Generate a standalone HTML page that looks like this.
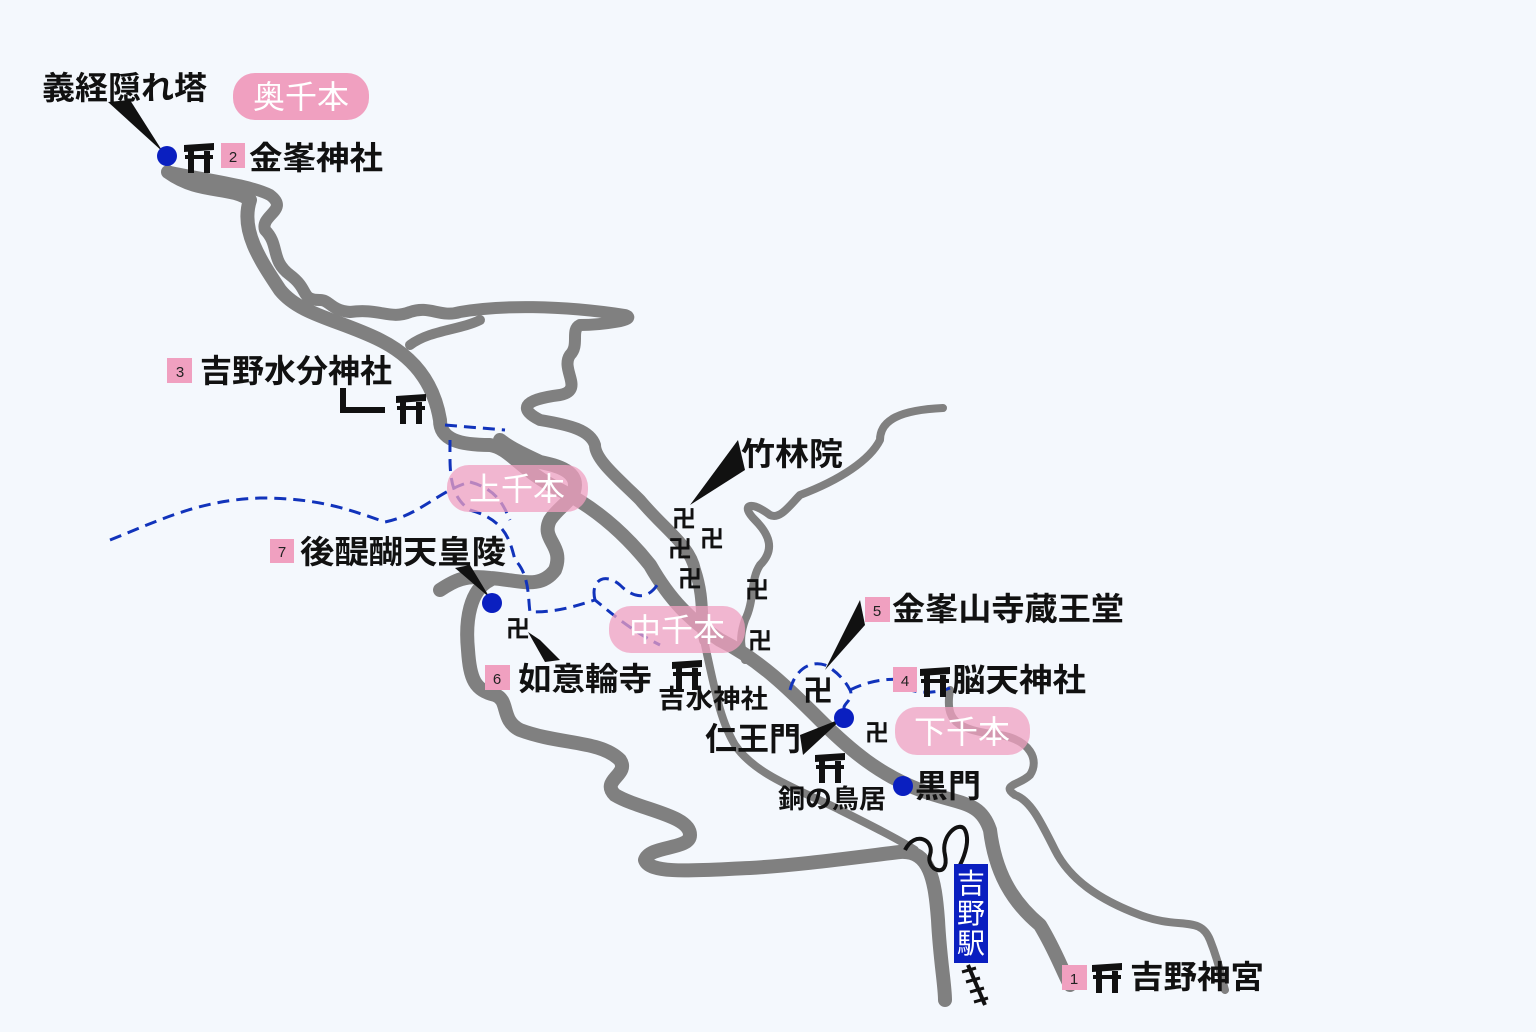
<!DOCTYPE html>
<html><head><meta charset="utf-8"><style>
html,body{margin:0;padding:0;background:#f4f8fd;}
svg{display:block}
text{font-family:"Liberation Sans","Noto Sans CJK JP",sans-serif;}
.lb{font-size:32px;font-weight:bold;fill:#111}
.sm{font-size:26px;font-weight:bold;fill:#111}
.mj{font-size:24px;font-weight:bold;fill:#111}
.pw{font-size:32px;fill:#fff}
.nm{font-size:15px;fill:#222}
</style></head><body>
<svg width="1536" height="1032" viewBox="0 0 1536 1032" xmlns="http://www.w3.org/2000/svg">
<defs>
<g id="torii"><path d="M0 2 L30 0 L30 7 L0 9 Z" fill="#111"/><rect x="1" y="12" width="28" height="4" fill="#111"/><rect x="4" y="8" width="6" height="22" fill="#111"/><rect x="20" y="8" width="6" height="22" fill="#111"/></g>
</defs>
<rect width="1536" height="1032" fill="#f4f8fd"/>
<g fill="none" stroke="#808080" stroke-linecap="round" stroke-linejoin="round">
<path stroke-width="14" d="M168 172 C200 195 230 185 250 200 C240 230 260 260 280 290 C300 315 340 320 380 340 C420 360 435 390 440 420 C440 440 460 445 490 445 C510 448 520 470 560 490 C600 510 630 540 650 565 C670 600 690 620 720 640 C760 660 790 690 820 720 C850 750 880 775 920 790 C960 805 980 800 990 830 C995 870 1010 900 1040 925 C1055 950 1060 965 1070 985"/>
<path stroke-width="12" d="M170 172 C210 180 250 185 270 195 C290 210 260 215 265 230 C280 245 270 260 290 275 C310 290 300 300 320 300 C330 300 330 310 350 312 C380 308 390 320 410 312 C430 305 440 318 460 312 C500 305 560 305 625 315 C640 320 600 325 580 325 C570 330 580 345 570 355 C560 370 585 390 560 395 C520 400 520 410 540 420 C570 425 590 430 595 445 C595 460 620 480 640 500 C665 530 690 545 695 570 C705 600 700 620 705 640"/>
<path stroke-width="10" d="M410 345 C430 330 460 330 480 320"/>
<path stroke-width="14" d="M440 590 C455 580 465 575 490 578 C520 580 540 590 555 570 C565 545 540 540 550 520 C560 505 575 500 575 485 C575 470 555 465 540 462 C525 455 510 448 500 440"/>
<path stroke-width="14" d="M490 580 C470 590 465 620 468 650 C470 680 475 690 495 695 C510 700 500 720 520 730 C560 745 600 740 620 760 C630 775 600 780 615 795 C640 810 690 815 690 835 C690 850 650 845 645 860 C650 875 700 870 750 868 C800 865 850 858 900 852 C930 850 935 880 938 920 C940 960 945 985 945 1000"/>
<path stroke-width="8" d="M943 408 C900 410 880 420 880 440 C870 460 840 480 800 495 C790 505 780 520 770 515 C750 500 740 505 755 520 C770 535 775 550 760 565 C750 580 755 600 745 620 C738 640 742 650 745 660"/>
<path stroke-width="8" d="M705 645 C715 690 720 720 735 745 C755 775 800 790 840 810 C870 825 900 840 915 850"/>
<path stroke-width="8" d="M950 690 C945 720 955 730 1000 735 C1030 740 1040 760 1030 775 C1020 785 1000 785 1015 795 C1030 800 1040 820 1055 850 C1070 880 1100 900 1140 915 C1180 930 1200 915 1210 940 C1220 965 1222 980 1225 990"/>
</g>
<path d="M905 850 C915 830 935 840 930 855 C925 870 950 880 945 855 C940 835 960 820 965 830 C970 840 965 855 960 865" fill="none" stroke="#111" stroke-width="4"/>
<path d="M968 965 L985 1005" stroke="#111" stroke-width="4"/>
<g stroke="#111" stroke-width="3"><path d="M962 972 L976 968"/><path d="M966 982 L980 978"/><path d="M970 992 L984 988"/><path d="M974 1002 L988 998"/></g>
<g fill="none" stroke="#1133bb" stroke-width="3" stroke-dasharray="12 7">
<path d="M110 540 C160 520 200 500 260 498 C320 498 350 510 385 522 C420 515 440 490 470 482"/>
<path d="M445 425 L505 430"/>
<path d="M450 440 C450 470 448 495 470 510 C505 520 510 540 515 560 C530 575 528 600 530 612 C560 612 575 606 595 600 C610 612 630 630 660 645"/>
<path d="M595 600 C590 580 605 572 620 585 C635 600 650 600 660 580"/>
<path d="M470 482 C500 490 505 510 510 520"/>
<path d="M790 690 C795 670 810 660 825 665 C835 670 845 680 850 690 C855 700 840 705 845 710 M850 690 C870 680 890 678 905 680 M905 688 C920 695 940 692 950 688"/>
</g>
<rect x="233" y="73" width="136" height="47" rx="22" fill="#f0a0c0"/>
<text x="301" y="108" class="pw" text-anchor="middle">奥千本</text>
<rect x="447" y="465" width="141" height="47" rx="22" fill="#f0a0c0" opacity="0.75"/>
<text x="517" y="500" class="pw" text-anchor="middle">上千本</text>
<rect x="609" y="606" width="136" height="47" rx="22" fill="#f0a0c0" opacity="0.75"/>
<text x="677" y="641" class="pw" text-anchor="middle">中千本</text>
<rect x="895" y="707" width="135" height="48" rx="22" fill="#f0a0c0" opacity="0.75"/>
<text x="962" y="743" class="pw" text-anchor="middle">下千本</text>
<g fill="#111">
<path d="M108 102 L130 100 L163 152 Z"/>
<path d="M738 440 L745 470 L690 505 Z"/>
<path d="M455 568 L470 565 L490 598 Z"/>
<path d="M528 632 L540 640 L560 660 L545 662 Z"/>
<path d="M860 600 L865 625 L825 670 Z"/>
<path d="M800 735 L803 755 L843 718 Z"/>
</g>
<g fill="#0a1fc0"><circle cx="167" cy="156" r="10"/><circle cx="492" cy="603" r="10"/><circle cx="844" cy="718" r="10"/><circle cx="903" cy="786" r="10"/></g>
<use href="#torii" x="184" y="143"/>
<use href="#torii" x="396" y="394"/>
<use href="#torii" x="672" y="660"/>
<use href="#torii" x="920" y="667"/>
<use href="#torii" x="815" y="753"/>
<use href="#torii" x="1092" y="963"/>
<path d="M343 388 L343 410 L385 410" fill="none" stroke="#111" stroke-width="6"/>
<g fill="#f0a0c0"><rect x="221" y="143" width="24" height="25"/><rect x="167" y="358" width="25" height="25"/><rect x="270" y="539" width="24" height="24"/><rect x="485" y="665" width="25" height="25"/><rect x="865" y="597" width="25" height="25"/><rect x="893" y="667" width="24" height="25"/><rect x="1062" y="965" width="25" height="25"/></g>
<g class="nm" text-anchor="middle"><text x="233" y="162">2</text><text x="180" y="377">3</text><text x="282" y="557">7</text><text x="497" y="684">6</text><text x="877" y="616">5</text><text x="905" y="686">4</text><text x="1074" y="984">1</text></g>
<text x="42" y="99" class="lb" textLength="165" lengthAdjust="spacingAndGlyphs">義経隠れ塔</text>
<text x="249" y="169" class="lb" textLength="134" lengthAdjust="spacingAndGlyphs">金峯神社</text>
<text x="200" y="382" class="lb" textLength="192" lengthAdjust="spacingAndGlyphs">吉野水分神社</text>
<text x="741" y="465" class="lb" textLength="102" lengthAdjust="spacingAndGlyphs">竹林院</text>
<text x="300" y="563" class="lb" textLength="206" lengthAdjust="spacingAndGlyphs">後醍醐天皇陵</text>
<text x="518" y="690" class="lb" textLength="134" lengthAdjust="spacingAndGlyphs">如意輪寺</text>
<text x="658" y="708" class="sm" textLength="110" lengthAdjust="spacingAndGlyphs">吉水神社</text>
<text x="892" y="620" class="lb" textLength="232" lengthAdjust="spacingAndGlyphs">金峯山寺蔵王堂</text>
<text x="952" y="691" class="lb" textLength="134" lengthAdjust="spacingAndGlyphs">脳天神社</text>
<text x="705" y="750" class="lb" textLength="96" lengthAdjust="spacingAndGlyphs">仁王門</text>
<text x="778" y="808" class="sm" textLength="108" lengthAdjust="spacingAndGlyphs">銅の鳥居</text>
<text x="915" y="797" class="lb" textLength="66" lengthAdjust="spacingAndGlyphs">黒門</text>
<text x="1130" y="988" class="lb" textLength="134" lengthAdjust="spacingAndGlyphs">吉野神宮</text>
<g class="mj"><text x="672" y="527">卍</text><text x="700" y="547">卍</text><text x="668" y="557">卍</text><text x="678" y="587">卍</text><text x="745" y="598">卍</text><text x="748" y="649">卍</text><text x="506" y="637">卍</text><text x="803" y="701" style="font-size:30px">卍</text><text x="865" y="741">卍</text></g>
<rect x="954" y="864" width="34" height="99" fill="#0a1fc0"/>
<text x="971" y="893" font-size="28" fill="#fff" text-anchor="middle">吉</text>
<text x="971" y="923" font-size="28" fill="#fff" text-anchor="middle">野</text>
<text x="971" y="953" font-size="28" fill="#fff" text-anchor="middle">駅</text>
</svg>
</body></html>
